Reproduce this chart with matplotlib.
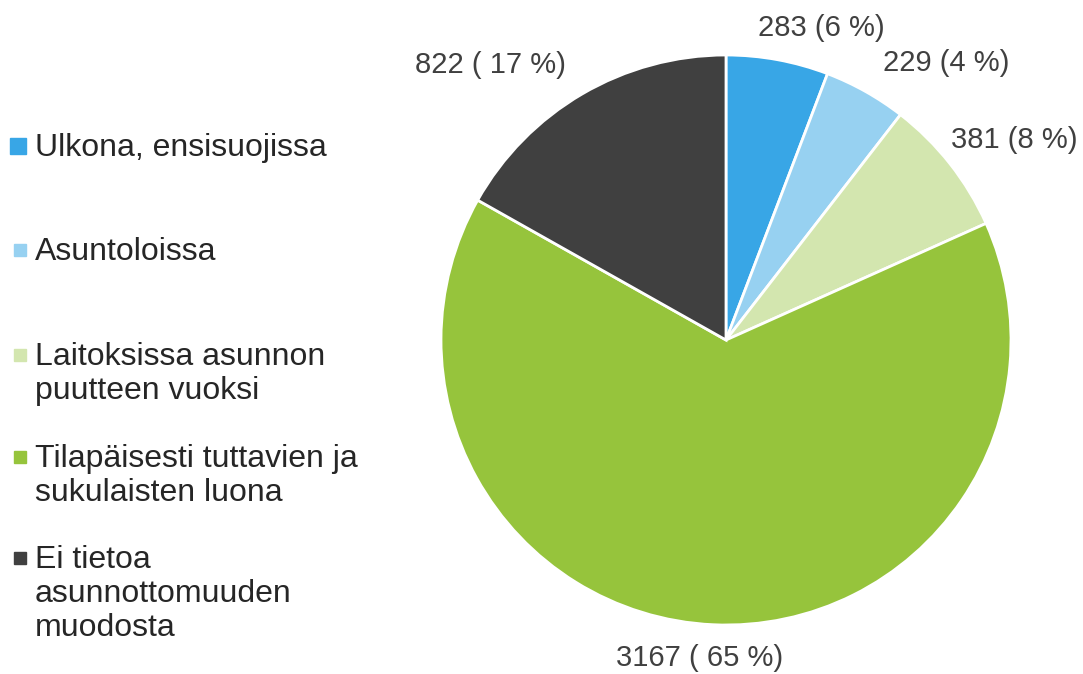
import matplotlib.pyplot as plt
from matplotlib.patches import Rectangle
import numpy as np

plt.rcParams['font.family'] = ['Liberation Sans', 'DejaVu Sans']

# data
categories = ['Ulkona, ensisuojissa',
              'Asuntoloissa',
              'Laitoksissa asunnon\npuutteen vuoksi',
              'Tilapäisesti tuttavien ja\nsukulaisten luona',
              'Ei tietoa\nasunnottomuuden\nmuodosta']
values = [283, 229, 381, 3167, 822]
value_labels = ['283 (6 %)', '229 (4 %)', '381 (8 %)', '3167 ( 65 %)', '822 ( 17 %)']
colors = ['#38A6E6', '#97D1F1', '#D3E6AF', '#96C43C', '#404040']

# label placement tweaks (degrees from wedge middle, radius in pie units)
label_angle_shift = [-6.5, -9.1, -3.5, -2.1, 10.3]
label_radius = [1.144, 1.242, 1.232, 1.12, 1.27]

W, H = 1083, 674
fig = plt.figure(figsize=(W / 100, H / 100), dpi=100)

# pie centre (726, 340) px, radius 285 px
cx, cy, r = 726, 340, 285
ax = fig.add_axes([(cx - r) / W, (H - cy - r) / H, 2 * r / W, 2 * r / H])
wedges, _ = ax.pie(values, colors=colors, startangle=90, counterclock=False,
                   radius=1.0, wedgeprops=dict(edgecolor='white', linewidth=2.0))
ax.set_xlim(-1, 1)
ax.set_ylim(-1, 1)
ax.set_aspect('equal')
ax.axis('off')

for w, txt, da, rr in zip(wedges, value_labels, label_angle_shift, label_radius):
    mid = np.deg2rad((w.theta1 + w.theta2) / 2 + da)
    ax.text(rr * np.cos(mid), rr * np.sin(mid), txt, ha='center', va='center',
            fontsize=21, color='#404040', clip_on=False)

# legend drawn by hand
legend_tops = [133, 237, 342, 444, 545]
marker_sizes = [16, 12, 12, 12, 12]
for lab, col, top, ms in zip(categories, colors, legend_tops, marker_sizes):
    fig.text(35 / W, 1 - top / H, lab, ha='left', va='top', fontsize=23,
             color='#262626', linespacing=1.17)
    mcy = top + 13
    fig.patches.append(Rectangle(((26 - ms) / W, 1 - (mcy + ms / 2) / H), ms / W, ms / H,
                                 transform=fig.transFigure, color=col))

fig.savefig('out.png', dpi=100)
